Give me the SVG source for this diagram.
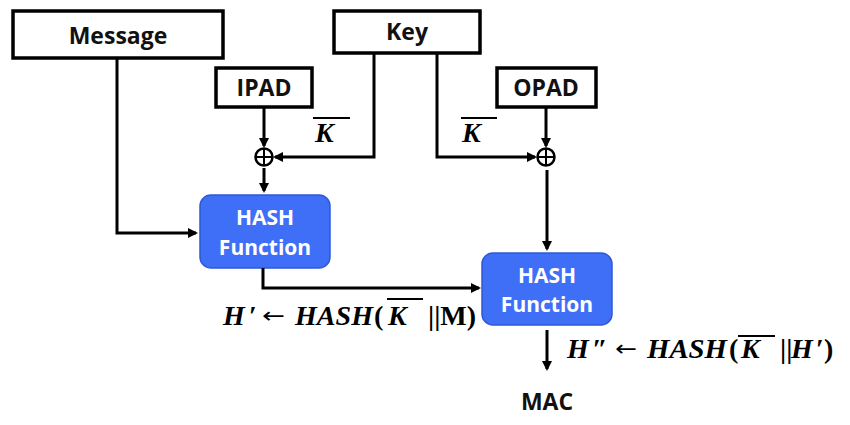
<svg xmlns="http://www.w3.org/2000/svg" width="850" height="425" viewBox="0 0 850 425">
<style>
.box{fill:#fff;stroke:#000;stroke-width:3.5}
.lbl{font-family:"Open Sans","Liberation Sans",sans-serif;font-weight:bold;font-size:23px;text-anchor:middle;fill:#111}
.hash{fill:#3f6ff7;stroke:#2f59d6;stroke-width:1.5}
.ht{font-family:"Open Sans","Liberation Sans",sans-serif;font-weight:bold;font-size:21px;text-anchor:middle;fill:#fff}
.ln{fill:none;stroke:#000;stroke-width:3}
.math{font-family:"Liberation Serif","DejaVu Serif",serif;font-weight:bold;font-style:italic;font-size:28px;fill:#000}
.up{font-family:"Liberation Serif","DejaVu Serif",serif;font-weight:bold;font-size:28px;fill:#000}
.arr{font-family:"DejaVu Sans","Liberation Sans",sans-serif;font-size:22px;fill:#000}
.ov{stroke:#000;stroke-width:2}
.xor{fill:#fff;stroke:#000;stroke-width:2.5}
</style>
<defs>
<marker id="ah" markerWidth="10" markerHeight="10" refX="8" refY="5" orient="auto" markerUnits="userSpaceOnUse">
<path d="M0,0 L10,5 L0,10 Z" fill="#000"/>
</marker>
</defs>
<g id="message"><rect class="box" x="13" y="11" width="210" height="47"/><text class="lbl" x="118" y="44" font-size="24">Message</text></g>
<g id="key"><rect class="box" x="334" y="11" width="146" height="42"/><text class="lbl" x="407" y="40">Key</text></g>
<g id="ipad"><rect class="box" x="216" y="68" width="96" height="39"/><text class="lbl" x="264" y="96">IPAD</text></g>
<g id="opad"><rect class="box" x="497" y="68" width="99" height="39"/><text class="lbl" x="546" y="96">OPAD</text></g>
<g id="xor1"><circle class="xor" cx="264" cy="157" r="8.5"/><path class="ov" d="M255.5,157 H272.5 M264,148.5 V165.5"/></g>
<g id="xor2"><circle class="xor" cx="546" cy="157" r="8.5"/><path class="ov" d="M537.5,157 H554.5 M546,148.5 V165.5"/></g>
<g id="hash1"><rect class="hash" x="200" y="195" width="130" height="73" rx="11"/><text class="ht" x="265" y="225">HASH</text><text class="ht" x="265" y="255">Function</text></g>
<g id="hash2"><rect class="hash" x="482" y="253" width="130" height="72" rx="11"/><text class="ht" x="547" y="283">HASH</text><text class="ht" x="547" y="312">Function</text></g>
<g id="mac"><text class="lbl" x="547" y="410" font-size="24">MAC</text></g>
<g id="connectors">
<path class="ln" d="M117,58 V233 H196" marker-end="url(#ah)"/>
<path class="ln" d="M264,107 V146" marker-end="url(#ah)"/>
<path class="ln" d="M374,53 V157 H275" marker-end="url(#ah)"/>
<path class="ln" d="M264,168 V191" marker-end="url(#ah)"/>
<path class="ln" d="M437,53 V157 H535" marker-end="url(#ah)"/>
<path class="ln" d="M546,107 V146" marker-end="url(#ah)"/>
<path class="ln" d="M547,170 V249" marker-end="url(#ah)"/>
<path class="ln" d="M263,268 V288 H479" marker-end="url(#ah)"/>
<path class="ln" d="M547,330 V369" marker-end="url(#ah)"/>
</g>
<g id="labels">
<text class="math" x="315" y="142" font-size="26">K</text><line class="ov" x1="313" y1="118" x2="350" y2="118"/>
<text class="math" x="462" y="142" font-size="26">K</text><line class="ov" x1="461" y1="118" x2="497" y2="118"/>
<text class="math" x="223" y="325">H</text><text class="up" x="249" y="325">′</text>
<text class="arr" x="262" y="323" textLength="23" lengthAdjust="spacingAndGlyphs">←</text>
<text class="math" x="295" y="325" textLength="78" lengthAdjust="spacingAndGlyphs">HASH</text>
<text class="up" x="374" y="325">(</text>
<text class="math" x="388" y="325">K</text><line class="ov" x1="387" y1="299" x2="423" y2="299"/>
<text class="up" x="428" y="325">||M)</text>
<text class="math" x="567" y="358">H</text><text class="up" x="592" y="358">″</text>
<text class="arr" x="615" y="356" textLength="22" lengthAdjust="spacingAndGlyphs">←</text>
<text class="math" x="647" y="358" textLength="80" lengthAdjust="spacingAndGlyphs">HASH</text>
<text class="up" x="729" y="358">(</text>
<text class="math" x="741" y="358">K</text><line class="ov" x1="738" y1="336" x2="775" y2="336"/>
<text class="up" x="780" y="358">||</text>
<text class="math" x="791" y="358">H</text><text class="up" x="816" y="358">′)</text>
</g>
</svg>
